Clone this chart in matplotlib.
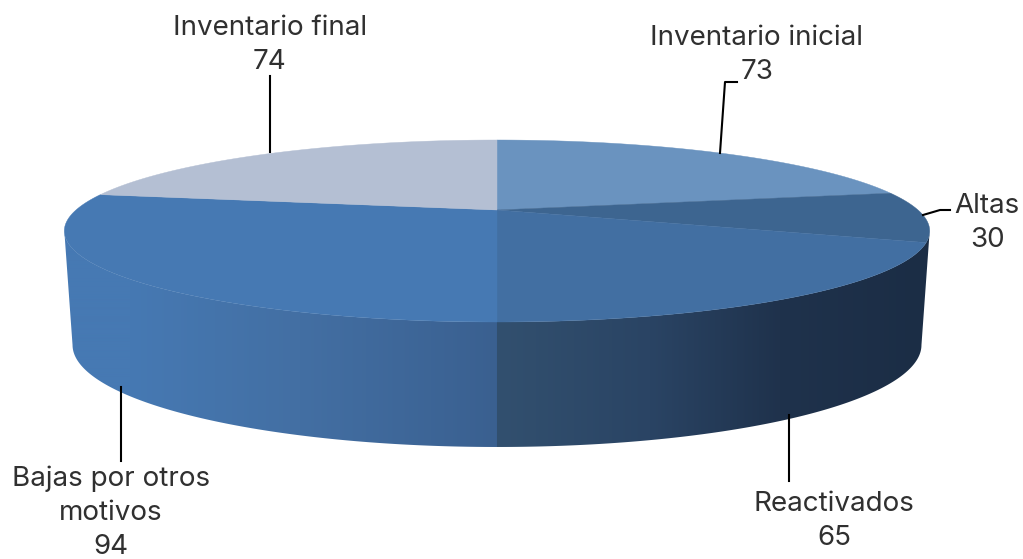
import numpy as np
import matplotlib
matplotlib.use("Agg")
import matplotlib.pyplot as plt
from matplotlib.patches import Polygon

labels = ["Inventario inicial", "Altas", "Reactivados", "Bajas por otros\nmotivos", "Inventario final"]
values = [73, 30, 65, 94, 74]
top_colors = ["#6a93bf", "#3d6590", "#426fa2", "#4679b3", "#b4bfd3"]

# label centre, leader line (pixels)
label_pos = [(757, 55), (987, 223), (834, 521), (111, 513), (270, 45)]
leaders = [
    [(720, 153), (725, 82), (737, 82)],
    [(923, 215), (940, 210), (950, 210)],
    [(789, 415), (789, 481)],
    [(121, 387), (121, 461)],
    [(270, 152), (270, 76)],
]

# side shading: pixel x -> colour
shade_left_x = [64, 130, 300, 496]
shade_left_c = ["#4679b3", "#4679b3", "#436fa3", "#3a6090"]
shade_right_x = [497, 650, 780, 925]
shade_right_c = ["#32506f", "#2a4464", "#1f324c", "#1b2d45"]

CX = 497
P = 0.2308


def project(theta, a, b, y0):
    w = 1 + P * np.cos(theta)
    return np.column_stack([CX + a * np.sin(theta) / w, y0 - b * np.cos(theta) / w])


def top_edge(theta):
    return project(theta, 421, 86.15, 210)


def bottom_edge(theta):
    return project(theta, 413, 96.6, 321.4)


def shade(x):
    if x < 497:
        xs, cs = shade_left_x, shade_left_c
    else:
        xs, cs = shade_right_x, shade_right_c
    cs = np.array([matplotlib.colors.to_rgb(c) for c in cs])
    return [np.interp(x, xs, cs[:, i]) for i in range(3)]


fig = plt.figure(figsize=(10.23, 5.59), dpi=100)
ax = fig.add_axes([0, 0, 1, 1])
ax.set_xlim(0, 1023)
ax.set_ylim(559, 0)
ax.axis("off")

# side wall as one gradient image clipped to the wall outline
# widest points of the ellipse are where cos(theta) = -P
widest = np.degrees(np.arccos(-P))
th = np.radians(np.linspace(widest, 360 - widest, 400))
wall = Polygon(np.vstack([top_edge(th), bottom_edge(th)[::-1]]), closed=True,
               transform=ax.transData, fc="none", ec="none")
ax.add_patch(wall)
grad = np.array([[shade(x) for x in np.arange(50, 950)]])
im = ax.imshow(grad, extent=[50, 950, 460, 180], aspect="auto", zorder=1, interpolation="bilinear")
im.set_clip_path(wall)
ax.set_xlim(0, 1023)
ax.set_ylim(559, 0)

# top face
edges = np.cumsum([0] + values) / sum(values) * 2 * np.pi
for start, end, col in zip(edges[:-1], edges[1:], top_colors):
    t = np.linspace(start, end, 120)
    pts = np.vstack([[CX, 210], top_edge(t)])
    ax.add_patch(Polygon(pts, closed=True, fc=col, ec=col, lw=0.3, zorder=2))

for line in leaders:
    xs, ys = zip(*line)
    ax.plot(xs, ys, color="black", lw=1.5, zorder=3)

for name, val, (x, y) in zip(labels, values, label_pos):
    ax.text(x, y, f"{name}\n{val}", ha="center", va="center", fontsize=20,
            family="Inter", color="#303030", linespacing=1.4, zorder=4)

fig.savefig("out.png", dpi=100)
